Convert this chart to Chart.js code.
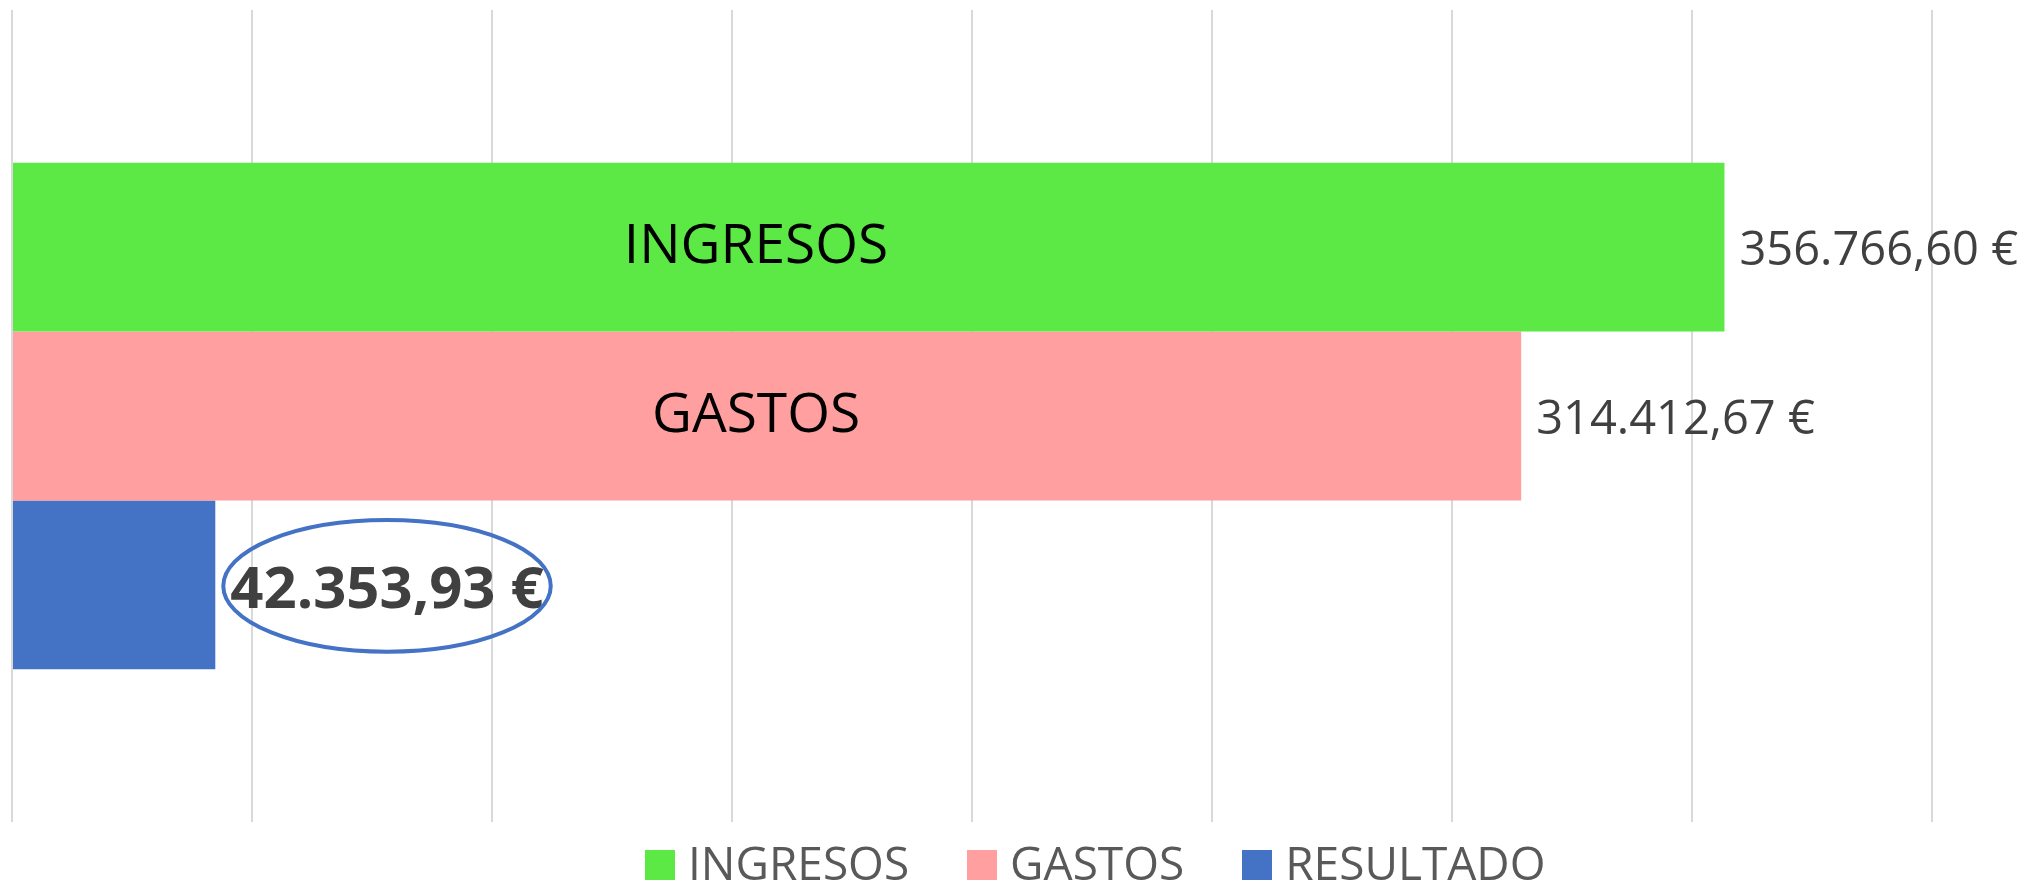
<!DOCTYPE html>
<html>
<head>
<meta charset="utf-8">
<title>Ingresos, gastos y resultado</title>
<script src="https://cdn.jsdelivr.net/npm/chart.js@4.4.1/dist/chart.umd.min.js"></script>
<style>
  html, body { margin: 0; padding: 0; background: #fff; }
  #wrap { position: relative; width: 2033px; height: 885px; overflow: hidden; }
  #legend {
    position: absolute; left: 645px; top: 839px; display: flex;
    font-family: 'Open Sans', sans-serif; font-size: 46px; line-height: 46px; color: #595959;
    white-space: nowrap;
  }
  .item { display: flex; align-items: center; margin-right: 58px; }
  .box { width: 30px; height: 30px; margin: 6px 13px 0 0; }
</style>
</head>
<body>
<div id="wrap">
  <canvas id="resultChart" width="2033" height="885"></canvas>
  <div id="legend"></div>
</div>
<script>
const categories = [''];
const seriesNames = ['INGRESOS', 'GASTOS', 'RESULTADO'];
const ingresos = [356766.60];
const gastos = [314412.67];
const resultado = [42353.93];
const xTicks = [0, 50000, 100000, 150000, 200000, 250000, 300000, 350000, 400000];

const seriesColors = ['#5CE946', '#FF9F9F', '#4472C4'];

function euro(v) {
  return v.toLocaleString('de-DE', { minimumFractionDigits: 2, maximumFractionDigits: 2 }) + ' €';
}

// names inside the long bars, amounts at the bar ends, the result circled
const barLabels = {
  id: 'barLabels',
  afterDatasetsDraw(chart, args, opts) {
    const ctx = chart.ctx;
    const xScale = chart.scales.x;
    chart.data.datasets.forEach((ds, i) => {
      const bar = chart.getDatasetMeta(i).data[0];
      ctx.save();

      ctx.font = '55px "Open Sans"';
      ctx.fillStyle = '#000000';
      ctx.textAlign = 'center';
      ctx.textBaseline = 'middle';
      const nameWidth = ctx.measureText(ds.label).width;
      if (bar.x - bar.base > nameWidth + 60) {
        ctx.fillText(ds.label, xScale.getPixelForValue(opts.nameAt), bar.y);
      }

      const bold = i === opts.highlight;
      const size = bold ? 58 : 47;
      const text = euro(ds.data[0]);
      ctx.font = (bold ? 'bold ' : '') + size + 'px "Open Sans"';
      ctx.fillStyle = '#404040';
      ctx.textAlign = 'left';
      ctx.textBaseline = 'alphabetic';
      const tx = bar.x + 15;
      ctx.fillText(text, tx, bar.y + size * 0.39);

      if (bold) {
        const w = ctx.measureText(text).width;
        ctx.beginPath();
        ctx.ellipse(tx + w / 2, bar.y + 1, w / 2 + 7, bar.height * 0.39, 0, 0, Math.PI * 2);
        ctx.lineWidth = 4;
        ctx.strokeStyle = '#4472C4';
        ctx.stroke();
      }
      ctx.restore();
    });
  }
};

const resultChart = new Chart(document.getElementById('resultChart').getContext('2d'), {
  type: 'bar',
  data: {
    labels: categories,
    datasets: [
      { label: seriesNames[0], data: ingresos, backgroundColor: seriesColors[0] },
      { label: seriesNames[1], data: gastos, backgroundColor: seriesColors[1] },
      { label: seriesNames[2], data: resultado, backgroundColor: seriesColors[2] }
    ]
  },
  options: {
    indexAxis: 'y',
    responsive: false,
    animation: false,
    categoryPercentage: 0.624,
    barPercentage: 1,
    layout: { padding: { left: 12, right: 101, top: 10, bottom: 63 } },
    scales: {
      x: {
        min: xTicks[0],
        max: xTicks[xTicks.length - 1],
        ticks: { display: false, stepSize: xTicks[1] - xTicks[0] },
        grid: { color: '#D9D9D9', lineWidth: 2, drawTicks: false },
        border: { display: false }
      },
      y: { display: false }
    },
    plugins: {
      legend: { display: false },
      tooltip: { enabled: false },
      barLabels: { nameAt: 155000, highlight: 2 }
    }
  },
  plugins: [barLabels]
});

// legend built from the chart's own legend items
const legendEl = document.getElementById('legend');
Chart.defaults.plugins.legend.labels.generateLabels(resultChart).forEach(item => {
  const el = document.createElement('div');
  el.className = 'item';
  const box = document.createElement('span');
  box.className = 'box';
  box.style.background = item.fillStyle;
  const txt = document.createElement('span');
  txt.textContent = item.text;
  el.appendChild(box);
  el.appendChild(txt);
  legendEl.appendChild(el);
});
</script>
</body>
</html>
